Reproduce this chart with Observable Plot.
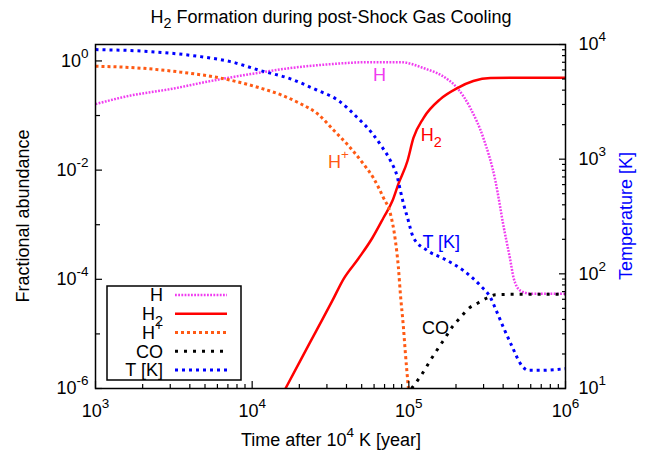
<!DOCTYPE html>
<html><head><meta charset="utf-8">
<script src="https://cdn.jsdelivr.net/npm/d3@7"></script>
<script src="https://cdn.jsdelivr.net/npm/@observablehq/plot@0.6"></script>
<style>
body{margin:0;background:#fff}
#chart{position:relative;width:655px;height:456px}
</style>
</head><body><div id="chart"></div>
<script>
const FONT = "'Liberation Sans', Arial, Helvetica, sans-serif";
const FS = 18;

// ---- data (time after 10^4 K in years) ----
const tH  = [1000,1671,3013,5420,9750,17540,31600,56900,88300,124000,176000,204000,247000,299000,357000,402000,445000,466000,515000,597000,1000000];
const vH  = [0.162,0.232,0.305,0.428,0.574,0.740,0.873,0.95,0.95,0.74,0.464,0.318,0.137,0.0388,0.00635,9.5e-4,2.19e-4,1.07e-4,6.2e-5,5.46e-5,5.46e-5];

const tH2 = [16320,20300,25700,32500,38200,47700,58600,68900,78600,85800,98000,107000,124000,159000,204000,258000,332000,466000,1000000];
const vH2 = [1e-6,3.25e-6,1.15e-5,4.06e-5,1.0e-4,2.40e-4,5.77e-4,1.34e-3,2.74e-3,5.6e-3,0.0147,0.0388,0.0900,0.200,0.318,0.428,0.485,0.49,0.49];

const tHp = [1000,1936,3485,6280,11300,15500,20300,26100,33000,42400,51300,59400,68900,76300,82100,85800,88300,92400,95100,99400];
const vHp = [0.80,0.738,0.624,0.485,0.318,0.235,0.165,0.108,0.0545,0.0255,0.0130,0.00719,0.00310,0.00158,5.08e-4,1.63e-4,5.46e-5,1.30e-5,4.36e-6,1e-6];

const tCO = [104000,122000,137000,155000,171000,190000,213000,240000,278000,318000,357000,426000,1000000];
const vCO = [1e-6,1.88e-6,3.25e-6,5.62e-6,8.55e-6,1.36e-5,1.99e-5,2.90e-5,3.73e-5,4.61e-5,5.22e-5,5.3e-5,5.3e-5];

const tT  = [1000,2245,4680,7270,11300,17540,25300,35600,47000,58600,67900,76300,84600,88300,92400,98000,107000,131000,166000,223000,286000,332000,357000,402000,459000,515000,580000,691000,1000000];
const vT  = [9030,8670,7840,7090,5920,5020,4060,3240,2300,1670,1260,972,691,532,410,310,207,160,136,107,79,62,49.8,34.0,22.8,16.5,14.4,14.4,14.9];

// ---- series styling / labels ----
const seriesNames = ["H","H_{2}","H^{+}","CO","T [K]"];
const colors  = ["#f03cf0","#ff0000","#ff5a14","#000000","#0000ff"];
const dashes  = ["1.8,1.4", null, "3,3", "3,6", "3,4"];
const widths  = [2.5, 2.5, 3, 3, 3];

// in-plot annotations (same order as seriesNames)
const annotX = [64900, 139000, 35600, 148000, 161000];
const annotY = [0.54, 0.043, 0.0138, 1.26e-5, 4.72e-4];

// ---- axes ----
const xDomain = [1e3, 1e6];
const yDomain = [1e-6, 2];
const tDomain = [10, 1e4];
const xMajor = [1e3, 1e4, 1e5, 1e6];
const xLabels = ["10^{3}","10^{4}","10^{5}","10^{6}"];
const yMajor = [1, 1e-2, 1e-4, 1e-6];
const yLabels = ["10^{0}","10^{-2}","10^{-4}","10^{-6}"];
const yMinor = [1e-1, 1e-3, 1e-5];
const tMajor = [10, 100, 1000, 10000];
const tLabels = ["10^{1}","10^{2}","10^{3}","10^{4}"];
const minorMult = [2,3,4,5,6,7,8,9];

const xMinor = [1e3,1e4,1e5].flatMap(d => minorMult.map(m => m*d));
const tMinor = [10,100,1000].flatMap(d => minorMult.map(m => m*d));

// temperature -> left-axis equivalent
const L = Math.log10;
function t2y(T){
  const f = (L(T)-L(tDomain[0]))/(L(tDomain[1])-L(tDomain[0]));
  if (f >= 1 - 1e-12) return yDomain[1] * 0.9999;
  if (f <= 1e-12) return yDomain[0] * 1.0001;
  return 10**(L(yDomain[0]) + f*(L(yDomain[1])-L(yDomain[0])));
}

const mk = (ts, vs) => ts.map((t,i)=>({t, v: vs[i]}));
const dataSets = [mk(tH,vH), mk(tH2,vH2), mk(tHp,vHp), mk(tCO,vCO), mk(tT, vT.map(t2y))];
const annot = seriesNames.map((s,i)=>({x: annotX[i], y: annotY[i], s, c: colors[i]}));
const rightLabels = tMajor.map((T,i)=>({y: t2y(T), s: tLabels[i]}));

const lookup = (vals, labels) => d => { let bi=0, bd=Infinity; vals.forEach((v,i)=>{const dd=Math.abs(L(v)-L(d)); if(dd<bd){bd=dd;bi=i;}}); return labels[bi]; };
const blank = () => "";

const plot = Plot.plot({
  width: 655, height: 456,
  marginLeft: 95, marginRight: 90, marginTop: 44, marginBottom: 68,
  style: {fontFamily: FONT, fontSize: FS+"px", background: "white", color: "black"},
  x: {type: "log", domain: xDomain, axis: null},
  y: {type: "log", domain: yDomain, axis: null},
  color: {type: "identity"},
  marks: [
    ...dataSets.map((d,i) => Plot.line(d, {x: "t", y: "v", stroke: colors[i], strokeWidth: widths[i], strokeDasharray: dashes[i] || undefined, strokeLinecap: "butt", curve: "monotone-x", clip: true})),
    Plot.text(annot, {x: "x", y: "y", text: "s", fill: "c", fontSize: FS}),
    // bottom axis
    Plot.axisX(xMajor, {anchor: "bottom", tickSize: -7, tickFormat: blank, label: null, strokeWidth: 1.2}),
    Plot.axisX(xMinor, {anchor: "bottom", tickSize: -4, tickFormat: blank, label: null, strokeWidth: 1.2}),
    Plot.axisX(xMajor, {anchor: "bottom", tickSize: 0, tickPadding: 16, tickFormat: lookup(xMajor, xLabels), label: null, fontSize: FS}),
    // left axis
    Plot.axisY(yMajor, {anchor: "left", tickSize: -7, tickFormat: blank, label: null, strokeWidth: 1.2}),
    Plot.axisY(yMinor, {anchor: "left", tickSize: -5, tickFormat: blank, label: null, strokeWidth: 1.2}),
    Plot.axisY(yMajor, {anchor: "left", tickSize: 0, tickPadding: 7, tickFormat: lookup(yMajor, yLabels), label: null, fontSize: FS}),
    // right (temperature) axis
    Plot.axisY(tMajor.map(t2y), {anchor: "right", tickSize: -7, tickFormat: blank, label: null, strokeWidth: 1.2}),
    Plot.axisY(tMinor.map(t2y), {anchor: "right", tickSize: -4, tickFormat: blank, label: null, strokeWidth: 1.2}),
    Plot.text(rightLabels, {y: "y", text: "s", frameAnchor: "right", dx: 13, textAnchor: "start", lineAnchor: "middle", fontSize: FS, fill: "black"}),
    Plot.frame({stroke: "black", strokeWidth: 1.5})
  ]
});
document.getElementById("chart").appendChild(plot);

// rich text (super/subscripts)
function setRich(sel, str, size){
  sel.text(null);
  const parts = str.split(/(\^\{[^}]*\}|_\{[^}]*\})/).filter(s => s !== "");
  let shift = 0;
  for (const p of parts){
    let target = 0, fs = null, content = p;
    if (p.startsWith("^{")) { target = -0.5*size; fs = 0.75*size; content = p.slice(2,-1); }
    else if (p.startsWith("_{")) { target = 0.3*size; fs = 0.8*size; content = p.slice(2,-1); }
    const ts = sel.append("tspan").text(content);
    if (target !== shift) ts.attr("dy", target - shift);
    if (fs) ts.attr("font-size", fs);
    shift = target;
  }
}
const svg = d3.select(plot);
svg.selectAll("text").each(function(){
  const s = this.textContent;
  if (/[\^_]\{/.test(s)) setRich(d3.select(this), s, FS);
});

// title & axis titles
const addText = (x, y, str, opts = {}) => {
  const t = svg.append("text").attr("x", x).attr("y", y)
    .attr("text-anchor", opts.anchor || "middle")
    .attr("fill", opts.fill || "black")
    .attr("font-family", FONT).attr("font-size", FS);
  if (opts.rotate) t.attr("transform", `rotate(-90 ${x} ${y})`);
  setRich(t, str, FS);
  return t;
};
addText(331, 23, "H_{2} Formation during post-Shock Gas Cooling");
addText(331, 446, "Time after 10^{4} K [year]");
addText(29, 216, "Fractional abundance", {rotate: true});
addText(632, 216, "Temperature [K]", {rotate: true, fill: "#0000ff"});

// legend
const lg = svg.append("g");
lg.append("rect").attr("x", 107).attr("y", 286).attr("width", 134).attr("height", 94)
  .attr("fill", "white").attr("stroke", "black").attr("stroke-width", 1.5);
seriesNames.forEach((s, i) => {
  const y = 295 + i*18.75;
  const t = lg.append("text").attr("x", 163).attr("y", y).attr("dy", "0.36em")
    .attr("text-anchor", "end").attr("font-family", FONT).attr("font-size", FS).attr("fill", "black");
  setRich(t, s, FS);
  const ln = lg.append("line").attr("x1", 175).attr("x2", 227).attr("y1", y).attr("y2", y)
    .attr("stroke", colors[i]).attr("stroke-width", widths[i]);
  if (dashes[i]) ln.attr("stroke-dasharray", dashes[i]);
});
</script>
</body></html>
